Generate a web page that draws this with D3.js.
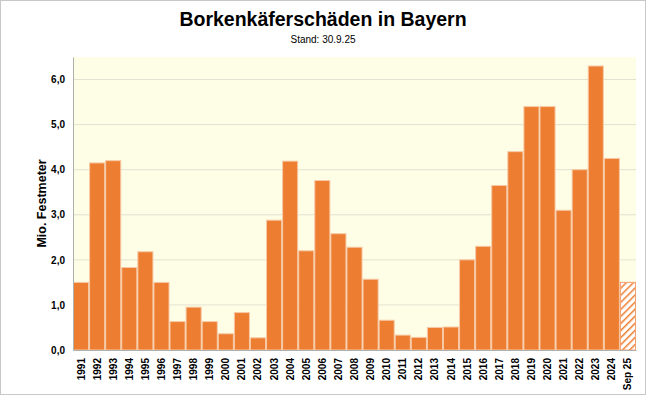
<!DOCTYPE html>
<html>
<head>
<meta charset="utf-8">
<script src="https://cdn.jsdelivr.net/npm/d3@7"></script>
<style>
  body { margin: 0; background: #fff; }
  svg { display: block; font-family: "Liberation Sans", Arial, sans-serif; }
</style>
</head>
<body>
<div id="chart"></div>
<script>
let years = ['1991','1992','1993','1994','1995','1996','1997','1998','1999','2000',
             '2001','2002','2003','2004','2005','2006','2007','2008','2009','2010',
             '2011','2012','2013','2014','2015','2016','2017','2018','2019','2020',
             '2021','2022','2023','2024','Sep 25'];
let values = [1.5, 4.15, 4.2, 1.83, 2.18, 1.5, 0.63, 0.95, 0.63, 0.36,
              0.83, 0.27, 2.88, 4.19, 2.2, 3.76, 2.58, 2.28, 1.57, 0.66,
              0.33, 0.28, 0.5, 0.51, 2.0, 2.3, 3.65, 4.4, 5.4, 5.4,
              3.1, 4.0, 6.3, 4.25, 1.5];
let partial = ['Sep 25'];
let yTicks = [0, 1, 2, 3, 4, 5, 6];

let width = 646, height = 395;
let margin = {top: 57, right: 10, bottom: 45, left: 73};
let plotW = width - margin.left - margin.right;
let plotH = height - margin.top - margin.bottom;

let data = years.map((y, i) => ({year: y, value: values[i]}));

let svg = d3.select('#chart').append('svg')
    .attr('width', width)
    .attr('height', height);

let defs = svg.append('defs');
let pat = defs.append('pattern')
    .attr('id', 'hatch')
    .attr('patternUnits', 'userSpaceOnUse')
    .attr('width', 5)
    .attr('height', 5)
    .attr('patternTransform', 'rotate(45)');
pat.append('rect').attr('width', 5).attr('height', 5).attr('fill', '#fff');
pat.append('line')
    .attr('x1', 0).attr('y1', 0).attr('x2', 0).attr('y2', 5)
    .attr('stroke', '#ed7d31').attr('stroke-width', 3);

// outer frame
svg.append('rect')
    .attr('x', 0.5).attr('y', 0.5)
    .attr('width', width - 1).attr('height', height - 1)
    .attr('fill', '#fff')
    .attr('stroke', '#c8c8c8');

svg.append('text')
    .attr('x', width / 2).attr('y', 26)
    .attr('text-anchor', 'middle')
    .attr('font-size', 19.5).attr('font-weight', 'bold')
    .text('Borkenkäferschäden in Bayern');

svg.append('text')
    .attr('x', width / 2).attr('y', 43)
    .attr('text-anchor', 'middle')
    .attr('font-size', 10)
    .text('Stand: 30.9.25');

let g = svg.append('g')
    .attr('transform', `translate(${margin.left},${margin.top})`);

let x = d3.scaleBand()
    .domain(years)
    .range([0, plotW])
    .padding(0);

let y = d3.scaleLinear()
    .domain([0, 6.5])
    .range([plotH, 0]);

g.append('rect')
    .attr('width', plotW).attr('height', plotH)
    .attr('fill', '#fefee6');

g.selectAll('line.grid')
    .data(yTicks.filter(d => d > 0))
    .join('line')
    .attr('class', 'grid')
    .attr('x1', 0).attr('x2', plotW)
    .attr('y1', d => y(d)).attr('y2', d => y(d))
    .attr('stroke', '#e2e2d2')
    .attr('stroke-width', 1);

g.selectAll('rect.bar')
    .data(data)
    .join('rect')
    .attr('class', 'bar')
    .attr('x', d => x(d.year) + 0.5)
    .attr('y', d => y(d.value))
    .attr('width', x.bandwidth() - 1)
    .attr('height', d => plotH - y(d.value))
    .attr('fill', d => partial.includes(d.year) ? 'url(#hatch)' : '#ed7d31')
    .attr('stroke', d => partial.includes(d.year) ? '#f5a070' : '#f7c9a6')
    .attr('stroke-width', 1);

// y axis
let yAxis = g.append('g')
    .call(d3.axisLeft(y).tickValues(yTicks).tickSize(0).tickPadding(8)
        .tickFormat(d => d3.format('.1f')(d).replace('.', ',')));
yAxis.select('.domain').attr('stroke', '#b0b0b0');
yAxis.selectAll('text')
    .attr('font-size', 10).attr('font-weight', 'bold')
    .attr('font-family', '"Liberation Sans", Arial, sans-serif')
    .attr('fill', '#000');

// x axis
let xAxis = g.append('g')
    .attr('transform', `translate(0,${plotH})`)
    .call(d3.axisBottom(x).tickSize(0).tickPadding(0));
xAxis.select('.domain').attr('stroke', '#b0b0b0');
xAxis.selectAll('text')
    .attr('font-size', 10).attr('font-weight', 'bold')
    .attr('font-family', '"Liberation Sans", Arial, sans-serif')
    .attr('fill', '#000')
    .attr('text-anchor', 'end')
    .attr('dy', '0.35em')
    .attr('transform', 'translate(0,8) rotate(-90)')
    .attr('x', 0).attr('y', 0);

svg.append('text')
    .attr('transform', `translate(46,${margin.top + plotH / 2}) rotate(-90)`)
    .attr('text-anchor', 'middle')
    .attr('font-size', 12.5).attr('font-weight', 'bold')
    .text('Mio. Festmeter');
</script>
</body>
</html>
